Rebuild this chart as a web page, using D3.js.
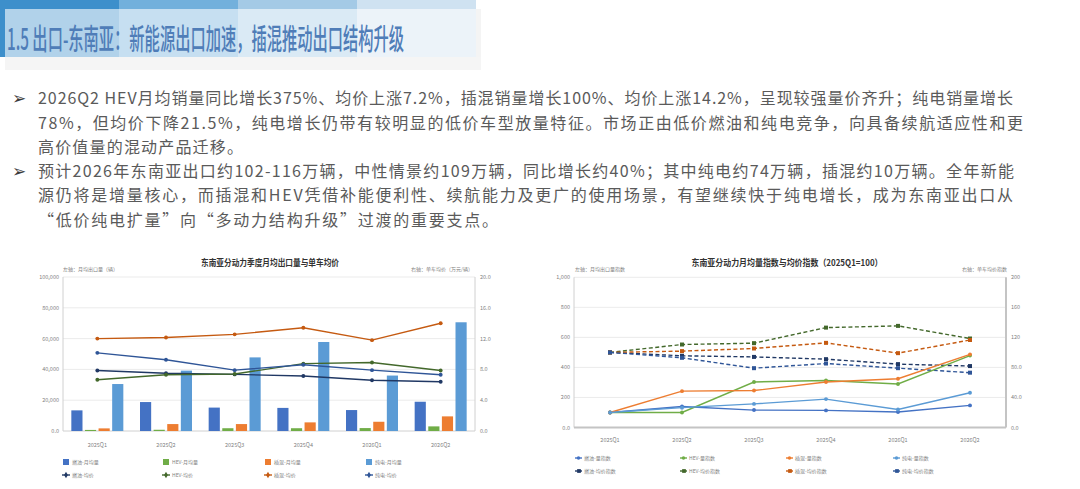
<!DOCTYPE html>
<html>
<head>
<meta charset="utf-8">
<script src="https://cdn.jsdelivr.net/npm/d3@7"></script>
<style>
  body { margin: 0; background: #fff; }
  svg { display: block; font-family: "Noto Sans CJK SC", "Noto Sans", sans-serif; }
</style>
</head>
<body>
<script>
// --- data ---
const quarters = ["2025Q1", "2025Q2", "2025Q3", "2025Q4", "2026Q1", "2026Q2"];

// left chart: monthly average export volume (units)
const volIce = [13400, 18800, 15200, 15000, 13600, 19000];
const volHev = [700, 800, 1800, 1800, 1900, 3000];
const volPhev = [1700, 4500, 4500, 5600, 6000, 9500];
const volBev = [30500, 39200, 47800, 57800, 36000, 70600];

// left chart: average price per vehicle (10k CNY)
const priceIce = [7.85, 7.5, 7.35, 7.15, 6.6, 6.4];
const priceHev = [6.65, 7.3, 7.4, 8.75, 8.9, 7.85];
const pricePhev = [12.0, 12.15, 12.55, 13.4, 11.8, 14.0];
const priceBev = [10.15, 9.25, 7.9, 8.6, 7.9, 7.3];

// right chart: volume index (left axis) and price index (right axis), 2025Q1 = 100
const idxVolIce = [100, 140, 116, 114, 103, 147];
const idxVolHev = [100, 100, 303, 313, 290, 479];
const idxVolPhev = [100, 242, 246, 303, 325, 487];
const idxVolBev = [100, 132, 157, 189, 120, 231];
const idxPriceIce = [100, 95.5, 94, 91, 84.4, 81.8];
const idxPriceHev = [100, 110.5, 112.3, 133, 135.3, 118.5];
const idxPricePhev = [100, 101.7, 105.2, 112.7, 99, 116.5];
const idxPriceBev = [100, 92.8, 79, 85.2, 79, 73];

// tick labels
const leftTicksA = ["0.0", "20,000", "40,000", "60,000", "80,000", "100,000"];
const rightTicksA = ["0.0", "4.0", "8.0", "12.0", "16.0", "20.0"];
const leftTicksB = ["0.0", "200", "400", "600", "800", "1,000"];
const rightTicksB = ["0.0", "40.0", "80.0", "120", "160", "200"];

const bodyLines = [
    "2026Q2 HEV月均销量同比增长375%、均价上涨7.2%，插混销量增长100%、均价上涨14.2%，呈现较强量价齐升；纯电销量增长",
    "78%，但均价下降21.5%，纯电增长仍带有较明显的低价车型放量特征。市场正由低价燃油和纯电竞争，向具备续航适应性和更",
    "高价值量的混动产品迁移。",
    "预计2026年东南亚出口约102-116万辆，中性情景约109万辆，同比增长约40%；其中纯电约74万辆，插混约10万辆。全年新能",
    "源仍将是增量核心，而插混和HEV凭借补能便利性、续航能力及更广的使用场景，有望继续快于纯电增长，成为东南亚出口从",
    "“低价纯电扩量”向“多动力结构升级”过渡的重要支点。"
];
const bodyWidths = [975, 985, 205, 976, 975, 460];

const width = 1080;
const height = 489;

const svg = d3.select("body").append("svg")
    .attr("width", width)
    .attr("height", height)
    .attr("viewBox", [0, 0, width, height]);

svg.append("rect").attr("width", width).attr("height", height).attr("fill", "#fff");

// --- header band ---
const headerColors = ["#3D8FCB", "#72B0DC", "#A4CAE6", "#CFE2F1"];
svg.append("g").selectAll()
    .data(headerColors)
    .join("rect")
    .attr("x", (d, i) => i * 119)
    .attr("y", 0)
    .attr("width", 119)
    .attr("height", 57)
    .attr("fill", d => d);
svg.append("rect").attr("x", 5).attr("y", 9).attr("width", 471).attr("height", 48)
    .attr("fill", "#fff").attr("opacity", 0.6);
svg.append("rect").attr("x", 476).attr("y", 9).attr("width", 5).attr("height", 61).attr("fill", "#F4F4F4");
svg.append("rect").attr("x", 5).attr("y", 57).attr("width", 476).attr("height", 13).attr("fill", "#F5F5F5");

svg.append("text")
    .attr("x", 7)
    .attr("y", 50)
    .attr("font-size", 29)
    .attr("font-weight", 500)
    .attr("fill", "#4F7DB8")
    .attr("textLength", 397)
    .attr("lengthAdjust", "spacingAndGlyphs")
    .text("1.5 出口-东南亚：新能源出口加速，插混推动出口结构升级");

// --- body text ---
const baselines = [104, 129, 153, 177, 201, 226];
const body = svg.append("g").attr("fill", "#5A5A5A").attr("font-size", 16);
body.selectAll()
    .data(bodyLines)
    .join("text")
    .attr("x", 38)
    .attr("y", (d, i) => baselines[i])
    .attr("textLength", (d, i) => bodyWidths[i])
    .attr("lengthAdjust", "spacing")
    .text(d => d);
body.selectAll()
    .data([0, 3])
    .join("text")
    .attr("x", 12)
    .attr("y", i => baselines[i])
    .attr("font-family", "DejaVu Sans")
    .attr("font-size", 17)
    .attr("fill", "#3A3A3A")
    .text("➢");

// --- helpers ---
const tickColor = "#7F7F7F";
const gridColor = "#E6E6E6";

function drawSeriesLine(g, x, y, values, color, dash, symbol, size) {
    const pts = values.map((v, i) => [x(quarters[i]) + x.bandwidth() / 2, y(v)]);
    g.append("path")
        .attr("d", d3.line()(pts))
        .attr("fill", "none")
        .attr("stroke", color)
        .attr("stroke-width", 1.4)
        .attr("stroke-dasharray", dash);
    g.append("g").selectAll()
        .data(pts)
        .join("path")
        .attr("transform", d => `translate(${d[0]},${d[1]})`)
        .attr("d", d3.symbol(symbol, size))
        .attr("fill", color);
}

function drawFrame(g, x, yL, labelsL, labelsR, valsL, opts) {
    const [x0, x1] = x.range();
    g.append("g").selectAll()
        .data(valsL.slice(1))
        .join("line")
        .attr("x1", x0).attr("x2", x1)
        .attr("y1", d => yL(d)).attr("y2", d => yL(d))
        .attr("stroke", gridColor).attr("stroke-width", 0.8);
    const [yb, yt] = yL.range();
    g.append("line").attr("x1", x0).attr("x2", x0).attr("y1", yb).attr("y2", yt)
        .attr("stroke", "#D0D0D0").attr("stroke-width", 1);
    g.append("line").attr("x1", x1).attr("x2", x1).attr("y1", yb).attr("y2", yt)
        .attr("stroke", opts.heavy ? "#C4C4C4" : "#D0D0D0").attr("stroke-width", opts.heavy ? 2 : 1);
    g.append("line").attr("x1", x0).attr("x2", x1).attr("y1", yb).attr("y2", yb)
        .attr("stroke", opts.heavy ? "#C4C4C4" : "#D0D0D0").attr("stroke-width", opts.heavy ? 2 : 1);

    const t = g.append("g").attr("font-size", 5.5).attr("fill", tickColor);
    t.selectAll()
        .data(valsL)
        .join("text")
        .attr("x", x0 - 4)
        .attr("y", d => yL(d) + 2)
        .attr("text-anchor", "end")
        .text((d, i) => labelsL[i]);
    t.selectAll()
        .data(valsL)
        .join("text")
        .attr("x", x1 + 5)
        .attr("y", d => yL(d) + 2)
        .text((d, i) => labelsR[i]);
    t.selectAll()
        .data(quarters)
        .join("text")
        .attr("x", d => x(d) + x.bandwidth() / 2)
        .attr("y", yb + opts.catOffset)
        .attr("text-anchor", "middle")
        .text(d => d);
}

function drawTitles(g, cx, title, titleLen, leftNote, leftX, rightNote, rightX) {
    g.append("text")
        .attr("x", cx).attr("y", 266)
        .attr("text-anchor", "middle")
        .attr("font-size", 9)
        .attr("font-weight", 700)
        .attr("fill", "#333")
        .attr("textLength", titleLen)
        .attr("lengthAdjust", "spacingAndGlyphs")
        .text(title);
    g.append("text").attr("x", leftX).attr("y", 271)
        .attr("font-size", 5).attr("fill", tickColor).text(leftNote);
    g.append("text").attr("x", rightX).attr("y", 271)
        .attr("text-anchor", "end")
        .attr("font-size", 5).attr("fill", tickColor).text(rightNote);
}

// --- left chart ---
const barKeys = ["燃油", "HEV", "插混", "纯电"];
const barColors = ["#4472C4", "#70AD47", "#ED7D31", "#5B9BD5"];
const barValues = [volIce, volHev, volPhev, volBev];
const priceValues = [priceIce, priceHev, pricePhev, priceBev];
const priceColors = ["#203864", "#43682B", "#C55A11", "#2F5597"];

const gA = svg.append("g");
const xA = d3.scaleBand().domain(quarters).range([63, 475]);
const yA = d3.scaleLinear().domain([0, 100000]).range([431, 277]);
const yA2 = d3.scaleLinear().domain([0, 20]).range([431, 277]);
const xA1 = d3.scaleBand().domain(barKeys).range([0, 52]).paddingInner(0.18);

drawTitles(gA, 270, "东南亚分动力季度月均出口量与单车均价", 138,
    "左轴：月均出口量（辆）", 63, "右轴：单车均价（万元/辆）", 473);
drawFrame(gA, xA, yA, leftTicksA, rightTicksA, d3.range(0, 100001, 20000), { catOffset: 16 });

barKeys.forEach((k, s) => {
    gA.append("g").selectAll()
        .data(barValues[s])
        .join("rect")
        .attr("x", (d, i) => xA(quarters[i]) + xA.bandwidth() / 2 - 26 + xA1(k))
        .attr("y", d => yA(d))
        .attr("width", xA1.bandwidth())
        .attr("height", d => yA(0) - yA(d))
        .attr("fill", barColors[s]);
});
barKeys.forEach((k, s) => {
    drawSeriesLine(gA, xA, yA2, priceValues[s], priceColors[s], null, d3.symbolCircle, 12);
});

// legend left
const legA = gA.append("g").attr("font-size", 5).attr("fill", tickColor);
const legAx = [63, 163, 265, 366];
barKeys.forEach((k, s) => {
    legA.append("rect").attr("x", legAx[s]).attr("y", 459).attr("width", 6).attr("height", 6).attr("fill", barColors[s]);
    legA.append("text").attr("x", legAx[s] + 9).attr("y", 464).text(k + "-月均量");
    legA.append("line").attr("x1", legAx[s] - 1).attr("x2", legAx[s] + 7).attr("y1", 475).attr("y2", 475)
        .attr("stroke", priceColors[s]).attr("stroke-width", 1.4);
    legA.append("path").attr("transform", `translate(${legAx[s] + 3},475)`)
        .attr("d", d3.symbol(d3.symbolDiamond, 12)).attr("fill", priceColors[s]);
    legA.append("text").attr("x", legAx[s] + 9).attr("y", 477).text(k + "-均价");
});

// --- right chart ---
const volIdx = [idxVolIce, idxVolHev, idxVolPhev, idxVolBev];
const priceIdx = [idxPriceIce, idxPriceHev, idxPricePhev, idxPriceBev];
const volIdxColors = ["#4472C4", "#70AD47", "#ED7D31", "#5B9BD5"];
const priceIdxColors = ["#203864", "#43682B", "#C55A11", "#2F5597"];

const gB = svg.append("g");
const xB = d3.scaleBand().domain(quarters).range([574, 1006]);
const yB = d3.scaleLinear().domain([0, 1000]).range([427.5, 277.3]);
const yB2 = d3.scaleLinear().domain([0, 200]).range([427.5, 277.3]);

drawTitles(gB, 787, "东南亚分动力月均量指数与均价指数（2025Q1=100）", 191,
    "左轴：月均出口量指数", 575, "右轴：单车均价指数", 1007);
drawFrame(gB, xB, yB, leftTicksB, rightTicksB, d3.range(0, 1001, 200), { catOffset: 14, heavy: true });

barKeys.forEach((k, s) => {
    drawSeriesLine(gB, xB, yB2, priceIdx[s], priceIdxColors[s], "4,2.5", d3.symbolSquare, 16);
});
barKeys.forEach((k, s) => {
    drawSeriesLine(gB, xB, yB, volIdx[s], volIdxColors[s], null, d3.symbolCircle, 12);
});

const legB = gB.append("g").attr("font-size", 5).attr("fill", tickColor);
const legBx = [575, 680, 786, 893];
barKeys.forEach((k, s) => {
    legB.append("line").attr("x1", legBx[s]).attr("x2", legBx[s] + 7).attr("y1", 458).attr("y2", 458)
        .attr("stroke", volIdxColors[s]).attr("stroke-width", 1.4);
    legB.append("path").attr("transform", `translate(${legBx[s] + 3.5},458)`)
        .attr("d", d3.symbol(d3.symbolCircle, 10)).attr("fill", volIdxColors[s]);
    legB.append("text").attr("x", legBx[s] + 9).attr("y", 460).text(k + "-量指数");
    legB.append("line").attr("x1", legBx[s]).attr("x2", legBx[s] + 7).attr("y1", 471).attr("y2", 471)
        .attr("stroke", priceIdxColors[s]).attr("stroke-width", 1.4);
    legB.append("path").attr("transform", `translate(${legBx[s] + 4},471)`)
        .attr("d", d3.symbol(d3.symbolSquare, 14)).attr("fill", priceIdxColors[s]);
    legB.append("text").attr("x", legBx[s] + 9).attr("y", 473).text(k + "-均价指数");
});
</script>
</body>
</html>
